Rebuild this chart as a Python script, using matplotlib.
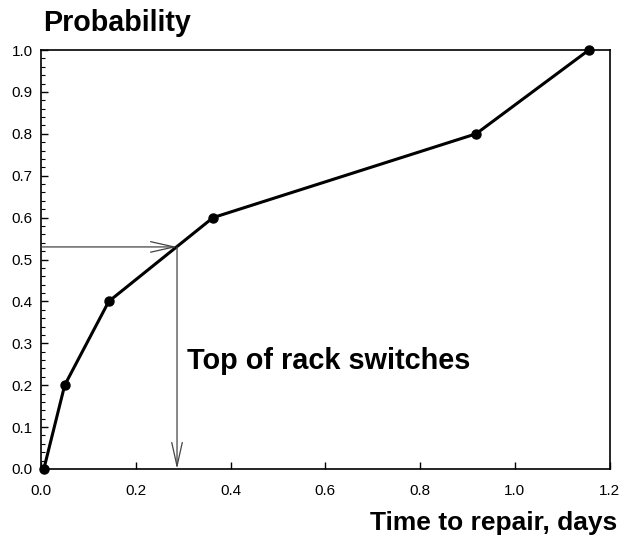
import matplotlib.pyplot as plt
import numpy as np
from matplotlib.ticker import MultipleLocator

plt.rcParams["font.family"] = ["Liberation Sans", "DejaVu Sans"]

# data
repair_days = [0.006, 0.05, 0.143, 0.363, 0.918, 1.156]
probability = [0.0, 0.2, 0.4, 0.6, 0.8, 1.0]

read_prob = 0.53
read_days = 0.287

fig = plt.figure(figsize=(6.26, 5.35), dpi=100)
ax = fig.add_axes([0.0655, 0.1234, 0.9085, 0.7831])

ax.plot(repair_days, probability, "-o", color="black", lw=2.2, ms=6.5,
        clip_on=False, zorder=3)

arrow_kw = dict(arrowstyle="->,head_length=1.7,head_width=0.38",
                color="#444444", lw=0.9, shrinkA=0, shrinkB=0)
ax.annotate("", xy=(read_days, read_prob), xytext=(0.0, read_prob),
            arrowprops=arrow_kw)
ax.annotate("", xy=(read_days, 0.0), xytext=(read_days, read_prob),
            arrowprops=arrow_kw)

ax.text(0.308, 0.257, "Top of rack switches", fontsize=20.8,
        fontweight="bold", va="center", ha="left")

ax.set_xlim(0, 1.2)
ax.set_ylim(0, 1.0)
ax.xaxis.set_major_locator(MultipleLocator(0.2))
ax.yaxis.set_major_locator(MultipleLocator(0.1))
ax.yaxis.set_minor_locator(MultipleLocator(0.02))
ax.xaxis.set_major_formatter(plt.FuncFormatter(lambda v, p: f"{v:.1f}"))
ax.yaxis.set_major_formatter(plt.FuncFormatter(lambda v, p: f"{v:.1f}"))
ax.tick_params(axis="both", which="major", direction="in", length=5,
               width=1, labelsize=11)
ax.tick_params(axis="x", which="major", pad=10.5)
ax.tick_params(axis="y", which="major", pad=6)
ax.tick_params(axis="y", which="minor", direction="in", length=3, width=0.8)
for s in ax.spines.values():
    s.set_linewidth(1.2)

fig.text(43 / 626, 1 - 23 / 535, "Probability", fontsize=20.6,
         fontweight="bold", ha="left", va="center")
fig.text(617 / 626, 1 - 523 / 535, "Time to repair, days", fontsize=19,
         fontweight="bold", ha="right", va="center")

fig.savefig("out.png", dpi=100)
